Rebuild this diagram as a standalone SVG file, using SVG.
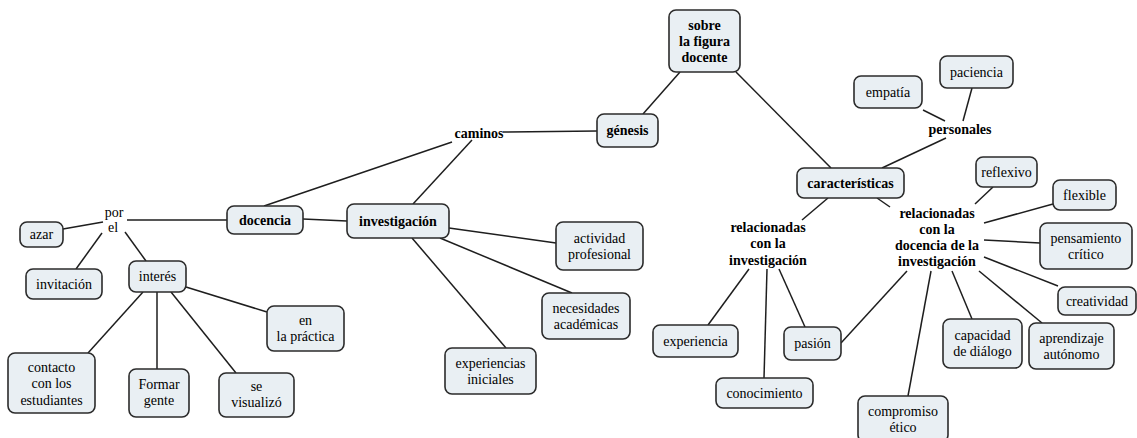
<svg xmlns="http://www.w3.org/2000/svg" width="1137" height="438" viewBox="0 0 1137 438">
<rect width="1137" height="438" fill="#ffffff"/>
<g id="connectors" stroke="#1e1e1e" stroke-width="1.5">
<line x1="63" y1="229" x2="103" y2="222"/>
<line x1="102" y1="233" x2="76" y2="269"/>
<line x1="125" y1="232" x2="146" y2="261"/>
<line x1="127" y1="220" x2="227" y2="220"/>
<line x1="143" y1="292" x2="88" y2="353"/>
<line x1="157" y1="292" x2="157" y2="369"/>
<line x1="171" y1="292" x2="236" y2="373"/>
<line x1="186" y1="287" x2="267" y2="312"/>
<line x1="303" y1="219" x2="347" y2="221"/>
<line x1="264" y1="206" x2="452" y2="142"/>
<line x1="413" y1="204" x2="472" y2="140"/>
<line x1="503" y1="132" x2="597" y2="131"/>
<line x1="449" y1="228" x2="556" y2="243"/>
<line x1="440" y1="238" x2="572" y2="293"/>
<line x1="412" y1="238" x2="506" y2="348"/>
<line x1="643" y1="114" x2="680" y2="72"/>
<line x1="736" y1="72" x2="831" y2="168"/>
<line x1="923" y1="110" x2="945" y2="121"/>
<line x1="972" y1="88" x2="963" y2="121"/>
<line x1="946" y1="138" x2="882" y2="168"/>
<line x1="828" y1="198" x2="802" y2="220"/>
<line x1="877" y1="198" x2="890" y2="207"/>
<line x1="993" y1="187" x2="975" y2="204"/>
<line x1="1053" y1="204" x2="984" y2="223"/>
<line x1="984" y1="240" x2="1040" y2="243"/>
<line x1="984" y1="257" x2="1058" y2="286"/>
<line x1="952" y1="271" x2="972" y2="319"/>
<line x1="979" y1="271" x2="1042" y2="323"/>
<line x1="907" y1="271" x2="841" y2="343"/>
<line x1="931" y1="271" x2="908" y2="396"/>
<line x1="749" y1="269" x2="708" y2="325"/>
<line x1="767" y1="269" x2="764" y2="378"/>
<line x1="779" y1="269" x2="805" y2="327"/>
</g>
<g id="por-el"><text font-family="Liberation Serif" font-size="14" text-anchor="middle" x="114" y="217">por</text><text font-family="Liberation Serif" font-size="14" text-anchor="middle" x="113" y="232">el</text></g>
<g id="caminos"><text font-family="Liberation Serif" font-size="14" text-anchor="middle" font-weight="bold" x="479" y="138">caminos</text></g>
<g id="personales"><text font-family="Liberation Serif" font-size="14" text-anchor="middle" font-weight="bold" x="960" y="134">personales</text></g>
<g id="rel-inv"><text font-family="Liberation Serif" font-size="14" text-anchor="middle" font-weight="bold" x="768" y="232">relacionadas</text><text font-family="Liberation Serif" font-size="14" text-anchor="middle" font-weight="bold" x="768" y="248">con la</text><text font-family="Liberation Serif" font-size="14" text-anchor="middle" font-weight="bold" x="768" y="265">investigación</text></g>
<g id="rel-doc"><text font-family="Liberation Serif" font-size="14" text-anchor="middle" font-weight="bold" x="937" y="218">relacionadas</text><text font-family="Liberation Serif" font-size="14" text-anchor="middle" font-weight="bold" x="937" y="234">con la</text><text font-family="Liberation Serif" font-size="14" text-anchor="middle" font-weight="bold" x="937" y="250">docencia de la</text><text font-family="Liberation Serif" font-size="14" text-anchor="middle" font-weight="bold" x="937" y="266">investigación</text></g>
<g id="azar"><rect fill="#e9eff3" stroke="#2b2b2b" stroke-width="1.6" x="20" y="222" width="43" height="25" rx="7"/><text font-family="Liberation Serif" font-size="14" text-anchor="middle" x="41.5" y="239">azar</text></g>
<g id="invitacion"><rect fill="#e9eff3" stroke="#2b2b2b" stroke-width="1.6" x="26" y="269" width="76" height="30" rx="7"/><text font-family="Liberation Serif" font-size="14" text-anchor="middle" x="64" y="289">invitación</text></g>
<g id="interes"><rect fill="#e9eff3" stroke="#2b2b2b" stroke-width="1.6" x="129" y="261" width="57" height="31" rx="7"/><text font-family="Liberation Serif" font-size="14" text-anchor="middle" x="157.5" y="281">interés</text></g>
<g id="practica"><rect fill="#e9eff3" stroke="#2b2b2b" stroke-width="1.6" x="267" y="306" width="77" height="45" rx="7"/><text font-family="Liberation Serif" font-size="14" text-anchor="middle" x="305.5" y="325">en</text><text font-family="Liberation Serif" font-size="14" text-anchor="middle" x="305.5" y="341">la práctica</text></g>
<g id="contacto"><rect fill="#e9eff3" stroke="#2b2b2b" stroke-width="1.6" x="8" y="353" width="87" height="60" rx="7"/><text font-family="Liberation Serif" font-size="14" text-anchor="middle" x="51.5" y="372">contacto</text><text font-family="Liberation Serif" font-size="14" text-anchor="middle" x="51.5" y="388">con los</text><text font-family="Liberation Serif" font-size="14" text-anchor="middle" x="51.5" y="405">estudiantes</text></g>
<g id="formar"><rect fill="#e9eff3" stroke="#2b2b2b" stroke-width="1.6" x="129" y="369" width="60" height="48" rx="7"/><text font-family="Liberation Serif" font-size="14" text-anchor="middle" x="159" y="389">Formar</text><text font-family="Liberation Serif" font-size="14" text-anchor="middle" x="159" y="405">gente</text></g>
<g id="visualizo"><rect fill="#e9eff3" stroke="#2b2b2b" stroke-width="1.6" x="219" y="373" width="75" height="44" rx="7"/><text font-family="Liberation Serif" font-size="14" text-anchor="middle" x="256.5" y="391">se</text><text font-family="Liberation Serif" font-size="14" text-anchor="middle" x="256.5" y="407">visualizó</text></g>
<g id="docencia"><rect fill="#e9eff3" stroke="#2b2b2b" stroke-width="1.6" x="227" y="206" width="76" height="28" rx="7"/><text font-family="Liberation Serif" font-size="14" text-anchor="middle" font-weight="bold" x="265" y="225">docencia</text></g>
<g id="investigacion"><rect fill="#e9eff3" stroke="#2b2b2b" stroke-width="1.6" x="347" y="204" width="102" height="34" rx="7"/><text font-family="Liberation Serif" font-size="14" text-anchor="middle" font-weight="bold" x="398" y="226">investigación</text></g>
<g id="actividad"><rect fill="#e9eff3" stroke="#2b2b2b" stroke-width="1.6" x="556" y="222" width="87" height="48" rx="7"/><text font-family="Liberation Serif" font-size="14" text-anchor="middle" x="599.5" y="243">actividad</text><text font-family="Liberation Serif" font-size="14" text-anchor="middle" x="599.5" y="259">profesional</text></g>
<g id="necesidades"><rect fill="#e9eff3" stroke="#2b2b2b" stroke-width="1.6" x="542" y="293" width="88" height="46" rx="7"/><text font-family="Liberation Serif" font-size="14" text-anchor="middle" x="586" y="313">necesidades</text><text font-family="Liberation Serif" font-size="14" text-anchor="middle" x="586" y="329">académicas</text></g>
<g id="experiencias"><rect fill="#e9eff3" stroke="#2b2b2b" stroke-width="1.6" x="445" y="348" width="91" height="46" rx="7"/><text font-family="Liberation Serif" font-size="14" text-anchor="middle" x="490.5" y="368">experiencias</text><text font-family="Liberation Serif" font-size="14" text-anchor="middle" x="490.5" y="384">iniciales</text></g>
<g id="genesis"><rect fill="#e9eff3" stroke="#2b2b2b" stroke-width="1.6" x="597" y="114" width="61" height="33" rx="7"/><text font-family="Liberation Serif" font-size="14" text-anchor="middle" font-weight="bold" x="627.5" y="135">génesis</text></g>
<g id="sobre"><rect fill="#e9eff3" stroke="#2b2b2b" stroke-width="1.6" x="669" y="10" width="71" height="62" rx="7"/><text font-family="Liberation Serif" font-size="14" text-anchor="middle" font-weight="bold" x="704.5" y="30">sobre</text><text font-family="Liberation Serif" font-size="14" text-anchor="middle" font-weight="bold" x="704.5" y="46">la figura</text><text font-family="Liberation Serif" font-size="14" text-anchor="middle" font-weight="bold" x="704.5" y="62">docente</text></g>
<g id="caracteristicas"><rect fill="#e9eff3" stroke="#2b2b2b" stroke-width="1.6" x="797" y="168" width="107" height="30" rx="7"/><text font-family="Liberation Serif" font-size="14" text-anchor="middle" font-weight="bold" x="850.5" y="188">características</text></g>
<g id="empatia"><rect fill="#e9eff3" stroke="#2b2b2b" stroke-width="1.6" x="854" y="76" width="68" height="32" rx="7"/><text font-family="Liberation Serif" font-size="14" text-anchor="middle" x="888" y="97">empatía</text></g>
<g id="paciencia"><rect fill="#e9eff3" stroke="#2b2b2b" stroke-width="1.6" x="940" y="56" width="73" height="32" rx="7"/><text font-family="Liberation Serif" font-size="14" text-anchor="middle" x="976.5" y="77">paciencia</text></g>
<g id="reflexivo"><rect fill="#e9eff3" stroke="#2b2b2b" stroke-width="1.6" x="976" y="157" width="61" height="30" rx="7"/><text font-family="Liberation Serif" font-size="14" text-anchor="middle" x="1006.5" y="177">reflexivo</text></g>
<g id="flexible"><rect fill="#e9eff3" stroke="#2b2b2b" stroke-width="1.6" x="1053" y="180" width="63" height="30" rx="7"/><text font-family="Liberation Serif" font-size="14" text-anchor="middle" x="1084.5" y="200">flexible</text></g>
<g id="pensamiento"><rect fill="#e9eff3" stroke="#2b2b2b" stroke-width="1.6" x="1040" y="223" width="92" height="46" rx="7"/><text font-family="Liberation Serif" font-size="14" text-anchor="middle" x="1086" y="243">pensamiento</text><text font-family="Liberation Serif" font-size="14" text-anchor="middle" x="1086" y="259">crítico</text></g>
<g id="creatividad"><rect fill="#e9eff3" stroke="#2b2b2b" stroke-width="1.6" x="1058" y="287" width="78" height="28" rx="7"/><text font-family="Liberation Serif" font-size="14" text-anchor="middle" x="1097" y="306">creatividad</text></g>
<g id="capacidad"><rect fill="#e9eff3" stroke="#2b2b2b" stroke-width="1.6" x="943" y="319" width="79" height="49" rx="7"/><text font-family="Liberation Serif" font-size="14" text-anchor="middle" x="982.5" y="340">capacidad</text><text font-family="Liberation Serif" font-size="14" text-anchor="middle" x="982.5" y="356">de diálogo</text></g>
<g id="aprendizaje"><rect fill="#e9eff3" stroke="#2b2b2b" stroke-width="1.6" x="1029" y="323" width="85" height="46" rx="7"/><text font-family="Liberation Serif" font-size="14" text-anchor="middle" x="1071.5" y="343">aprendizaje</text><text font-family="Liberation Serif" font-size="14" text-anchor="middle" x="1071.5" y="359">autónomo</text></g>
<g id="experiencia"><rect fill="#e9eff3" stroke="#2b2b2b" stroke-width="1.6" x="653" y="325" width="85" height="32" rx="7"/><text font-family="Liberation Serif" font-size="14" text-anchor="middle" x="695.5" y="346">experiencia</text></g>
<g id="pasion"><rect fill="#e9eff3" stroke="#2b2b2b" stroke-width="1.6" x="784" y="327" width="57" height="33" rx="7"/><text font-family="Liberation Serif" font-size="14" text-anchor="middle" x="812.5" y="348">pasión</text></g>
<g id="conocimiento"><rect fill="#e9eff3" stroke="#2b2b2b" stroke-width="1.6" x="716" y="378" width="97" height="30" rx="7"/><text font-family="Liberation Serif" font-size="14" text-anchor="middle" x="764.5" y="398">conocimiento</text></g>
<g id="compromiso"><rect fill="#e9eff3" stroke="#2b2b2b" stroke-width="1.6" x="858" y="396" width="90" height="46" rx="7"/><text font-family="Liberation Serif" font-size="14" text-anchor="middle" x="903" y="416">compromiso</text><text font-family="Liberation Serif" font-size="14" text-anchor="middle" x="903" y="432">ético</text></g>
</svg>
